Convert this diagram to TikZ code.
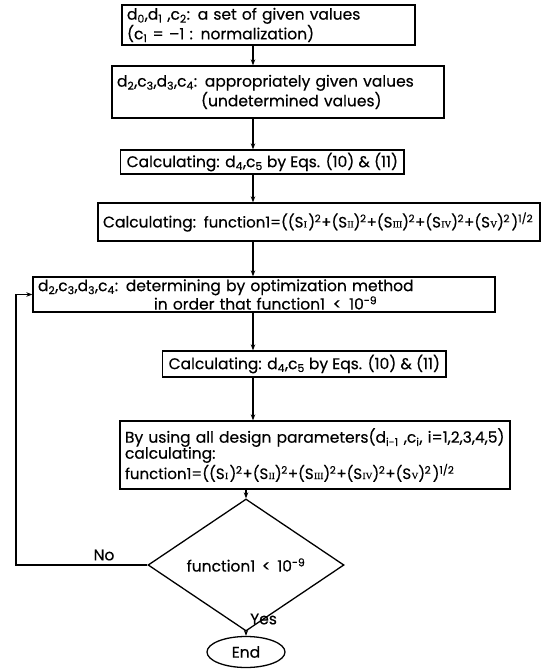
\documentclass[tikz,border=0pt]{standalone}
\usepackage{fontspec}
\setmainfont{Poppins}[FakeBold=0.4]
\newfontfamily\romfont{Liberation Serif}[FakeBold=0.4]
\usetikzlibrary{shapes.geometric,arrows.meta}
% S with a small roman numeral index, a square after the bracket, and the norm formula
\newcommand\SR[1]{S\kern0.3pt{\romfont\fontsize{9.5}{9.5}\selectfont#1}}
\newcommand\sq{\kern-0.5pt\textsuperscript{2}}
\newcommand\fml{{\fontsize{15}{15}\selectfont function1=((\SR{I}\kern1.5pt)\sq+(\SR{II})\sq+(\SR{III})\sq+(\SR{IV})\sq+(\SR{V})\sq\kern1.5pt)\textsuperscript{1/2}}}
\begin{document}
\begin{tikzpicture}[x=1pt,y=-1pt,
  every node/.style={font=\fontsize{15.5}{15}\selectfont},
  box/.style={draw, line width=1.3pt, inner ysep=0pt, inner xsep=5pt, align=left},
  onebox/.style={draw, line width=1.3pt, inner ysep=0pt, inner xsep=6pt, anchor=west},
  arr/.style={line width=1.1pt, -{Stealth[length=6pt,width=4.5pt]}},
  lbl/.style={inner sep=1pt}]
\useasboundingbox (0,0) rectangle (549,670);
\coordinate (ax) at (253,0);
\coordinate (lp) at (16,0);

\node[box, minimum width=293pt, minimum height=40pt, text width=283pt] (b1) at (268.5,25)
  {\mbox{d\textsubscript{0},d\textsubscript{1} ,c\textsubscript{2}: a set of given values}\\
   \mbox{(c\textsubscript{1} = –1 : normalization)}};
\node[box, minimum width=332pt, minimum height=52pt, text width=322pt] (b2) at (278,92)
  {\mbox{d\textsubscript{2},c\textsubscript{3},d\textsubscript{3},c\textsubscript{4}: appropriately given values}\\
   \mbox{\hspace*{84pt}(undetermined values)}};
\node[onebox, minimum height=24pt] (b3) at (120,162)
  {Calculating: d\textsubscript{4},c\textsubscript{5} by Eqs. (10) \& (11)};
\node[box, minimum width=442pt, minimum height=38pt, text width=432pt] (b4) at (319,222)
  {\mbox{Calculating: \fml}};
\node[box, minimum width=462pt, minimum height=35pt, text width=452pt] (b5) at (264,294.5)
  {\mbox{d\textsubscript{2},c\textsubscript{3},d\textsubscript{3},c\textsubscript{4}: determining by optimization method}\\
   \mbox{\hspace*{116pt}in order that function1 \,<\, 10\textsuperscript{-9}}};
\node[onebox, minimum height=26pt] (b6) at (162,364)
  {Calculating: d\textsubscript{4},c\textsubscript{5} by Eqs. (10) \& (11)};
\node[box, minimum width=390pt, minimum height=68pt, text width=380pt, font=\fontsize{15.5}{16}\selectfont] (b7) at (315,455)
  {\mbox{By using all design parameters(d\textsubscript{i-1} ,c\textsubscript{i}, i=1,2,3,4,5)}\\
   calculating:\\
   \mbox{\fml}};
\node[draw, line width=1.3pt, diamond, minimum width=196pt, minimum height=68pt, inner sep=0pt] (dec) at (246,565)
  {function1 \,<\, 10\textsuperscript{-9}};
\node[draw, line width=1.3pt, ellipse, minimum width=78pt, minimum height=31pt, inner sep=0pt] (end) at (246,652) {End};

\draw[arr] (b1.south -| ax) -- (b2.north -| ax);
\draw[arr] (b2.south -| ax) -- (b3.north -| ax);
\draw[arr] (b3.south -| ax) -- (b4.north -| ax);
\draw[arr] (b4.south -| ax) -- (b5.north -| ax);
\draw[arr] (b5.south -| ax) -- (b6.north -| ax);
\draw[arr] (b6.south -| ax) -- (b7.north -| ax);
\draw[arr] (b7.south -| dec.north) -- (dec.north);
\draw[arr] (dec.south) -- (end.north);
\draw[arr] (dec.west) -- (dec.west -| lp) -- (lp |- b5.west) -- (b5.west);
\node[lbl, anchor=west] (yes) at (249,619) {Yes};
\node[lbl] (no) at (104,555) {No};
\end{tikzpicture}
\end{document}
